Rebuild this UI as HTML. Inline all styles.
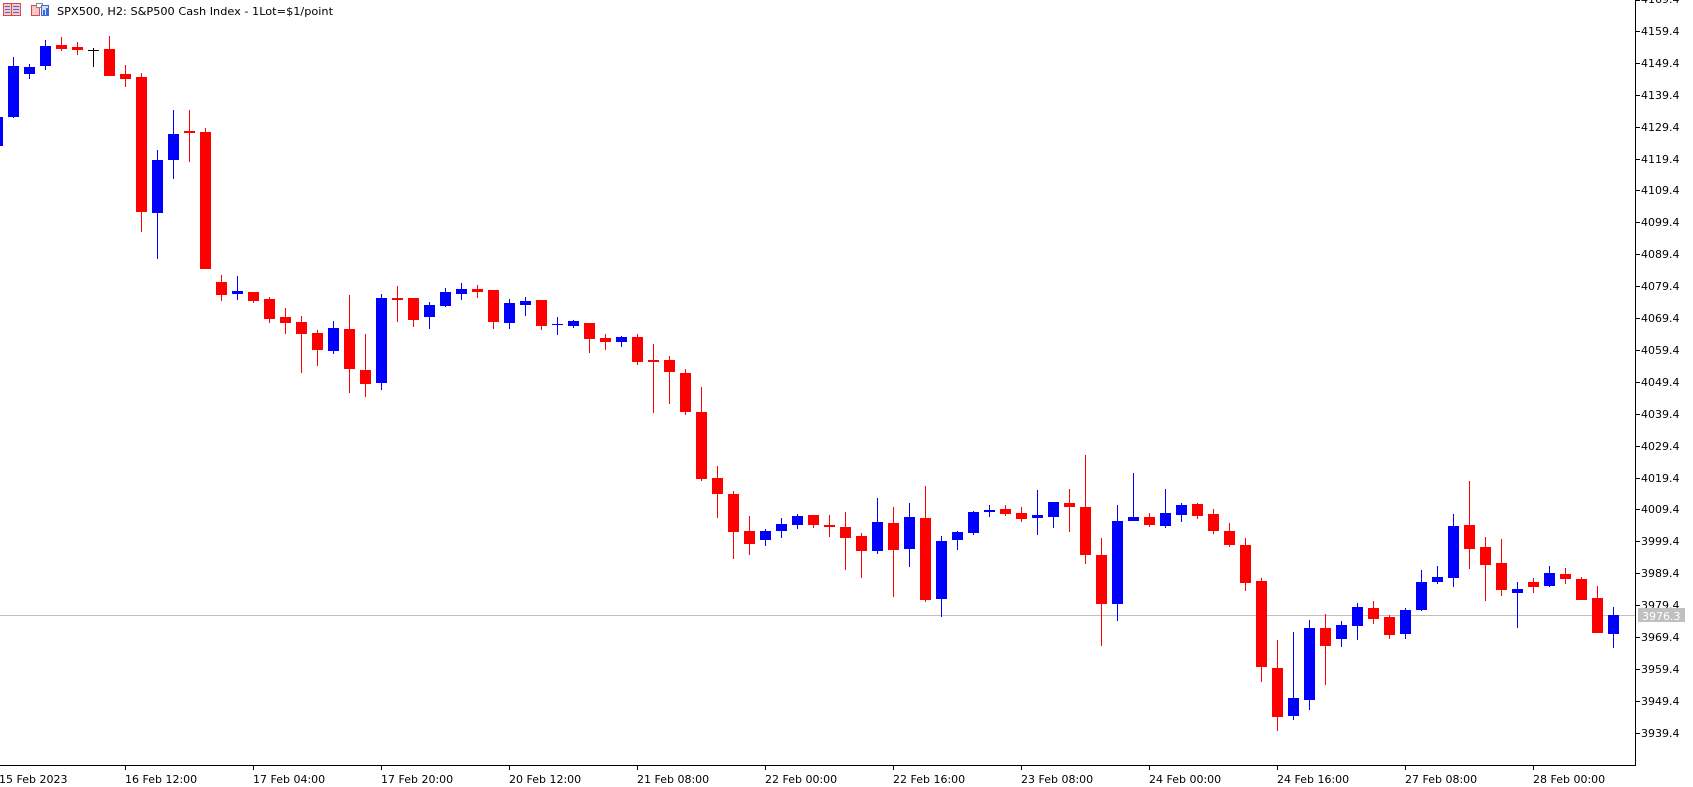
<!DOCTYPE html>
<html>
<head>
<meta charset="utf-8">
<style>
html,body{margin:0;padding:0;background:#fff;}
body{width:1693px;height:787px;overflow:hidden;}
svg{display:block;}
text{font-family:"DejaVu Sans","Liberation Sans",sans-serif;font-size:11px;fill:#000;}
</style>
</head>
<body>
<svg width="1693" height="787" viewBox="0 0 1693 787" xmlns="http://www.w3.org/2000/svg" shape-rendering="crispEdges">
<rect x="0" y="0" width="1693" height="787" fill="#fff"/>

<!-- title icons -->
<g>
<rect x="3.5" y="3.5" width="17" height="12" fill="#f6c9c9" stroke="#d84a4a"/>
<rect x="11" y="4" width="1" height="11" fill="#d84a4a"/>
<rect x="5" y="6" width="5" height="1" fill="#4a6ad8"/>
<rect x="5" y="9" width="5" height="1" fill="#4a6ad8"/>
<rect x="5" y="12" width="5" height="1" fill="#4a6ad8"/>
<rect x="13" y="6" width="6" height="1" fill="#4a6ad8"/>
<rect x="13" y="9" width="6" height="1" fill="#4a6ad8"/>
<rect x="13" y="12" width="6" height="1" fill="#4a6ad8"/>
<rect x="31.5" y="5.5" width="8" height="10" fill="#f6c9c9" stroke="#d84a4a"/>
<rect x="36.5" y="3.5" width="6" height="4" fill="#fff" stroke="#8a8a8a"/>
<rect x="41.5" y="5.5" width="7" height="10" fill="#cfe0f8" stroke="#3a6ad8"/>
<rect x="43" y="10" width="2" height="5" fill="#3a6ad8"/>
<rect x="46" y="8" width="2" height="7" fill="#3a6ad8"/>
</g>
<text x="57" y="15" textLength="276" lengthAdjust="spacingAndGlyphs">SPX500, H2:  S&amp;P500 Cash Index - 1Lot=$1/point</text>

<!-- bid line -->
<rect x="0" y="615" width="1635" height="1" fill="#c0c0c0"/>

<!-- blue candles -->
<g fill="#0000ff">
<rect x="-8" y="117" width="11" height="29"/>
<rect x="13" y="57" width="1" height="61"/><rect x="8" y="66" width="11" height="51"/>
<rect x="29" y="64" width="1" height="15"/><rect x="24" y="67" width="11" height="7"/>
<rect x="45" y="40" width="1" height="30"/><rect x="40" y="46" width="11" height="20"/>
<rect x="157" y="150" width="1" height="109"/><rect x="152" y="160" width="11" height="53"/>
<rect x="173" y="110" width="1" height="69"/><rect x="168" y="134" width="11" height="26"/>
<rect x="237" y="276" width="1" height="24"/><rect x="232" y="291" width="11" height="3"/>
<rect x="333" y="321" width="1" height="33"/><rect x="328" y="328" width="11" height="23"/>
<rect x="381" y="294" width="1" height="96"/><rect x="376" y="298" width="11" height="85"/>
<rect x="429" y="302" width="1" height="27"/><rect x="424" y="305" width="11" height="12"/>
<rect x="445" y="288" width="1" height="19"/><rect x="440" y="292" width="11" height="14"/>
<rect x="461" y="283" width="1" height="17"/><rect x="456" y="289" width="11" height="5"/>
<rect x="509" y="299" width="1" height="30"/><rect x="504" y="303" width="11" height="20"/>
<rect x="525" y="297" width="1" height="19"/><rect x="520" y="301" width="11" height="4"/>
<rect x="557" y="317" width="1" height="18"/><rect x="552" y="324" width="11" height="1"/>
<rect x="573" y="320" width="1" height="8"/><rect x="568" y="321" width="11" height="5"/>
<rect x="621" y="336" width="1" height="11"/><rect x="616" y="337" width="11" height="5"/>
<rect x="765" y="529" width="1" height="17"/><rect x="760" y="531" width="11" height="9"/>
<rect x="781" y="518" width="1" height="20"/><rect x="776" y="524" width="11" height="7"/>
<rect x="797" y="514" width="1" height="15"/><rect x="792" y="516" width="11" height="9"/>
<rect x="877" y="498" width="1" height="56"/><rect x="872" y="522" width="11" height="29"/>
<rect x="909" y="503" width="1" height="64"/><rect x="904" y="517" width="11" height="32"/>
<rect x="941" y="536" width="1" height="81"/><rect x="936" y="541" width="11" height="58"/>
<rect x="957" y="531" width="1" height="19"/><rect x="952" y="532" width="11" height="8"/>
<rect x="973" y="511" width="1" height="24"/><rect x="968" y="512" width="11" height="21"/>
<rect x="989" y="505" width="1" height="12"/><rect x="984" y="510" width="11" height="2"/>
<rect x="1037" y="490" width="1" height="45"/><rect x="1032" y="515" width="11" height="3"/>
<rect x="1053" y="502" width="1" height="26"/><rect x="1048" y="502" width="11" height="15"/>
<rect x="1117" y="505" width="1" height="116"/><rect x="1112" y="521" width="11" height="83"/>
<rect x="1133" y="473" width="1" height="48"/><rect x="1128" y="517" width="11" height="4"/>
<rect x="1165" y="489" width="1" height="39"/><rect x="1160" y="513" width="11" height="13"/>
<rect x="1181" y="503" width="1" height="19"/><rect x="1176" y="505" width="11" height="10"/>
<rect x="1293" y="632" width="1" height="88"/><rect x="1288" y="698" width="11" height="18"/>
<rect x="1309" y="620" width="1" height="90"/><rect x="1304" y="628" width="11" height="72"/>
<rect x="1341" y="621" width="1" height="26"/><rect x="1336" y="625" width="11" height="14"/>
<rect x="1357" y="603" width="1" height="37"/><rect x="1352" y="607" width="11" height="19"/>
<rect x="1405" y="608" width="1" height="31"/><rect x="1400" y="610" width="11" height="24"/>
<rect x="1421" y="570" width="1" height="41"/><rect x="1416" y="582" width="11" height="28"/>
<rect x="1437" y="566" width="1" height="18"/><rect x="1432" y="577" width="11" height="5"/>
<rect x="1453" y="514" width="1" height="73"/><rect x="1448" y="526" width="11" height="52"/>
<rect x="1517" y="582" width="1" height="46"/><rect x="1512" y="589" width="11" height="4"/>
<rect x="1549" y="566" width="1" height="21"/><rect x="1544" y="573" width="11" height="13"/>
<rect x="1613" y="607" width="1" height="41"/><rect x="1608" y="615" width="11" height="19"/>
</g>

<!-- black doji -->
<g fill="#000">
<rect x="93" y="48" width="1" height="19"/><rect x="88" y="50" width="11" height="1"/>
</g>

<!-- red candles -->
<g fill="#ff0000">
<rect x="61" y="37" width="1" height="14"/><rect x="56" y="45" width="11" height="4"/>
<rect x="77" y="42" width="1" height="13"/><rect x="72" y="47" width="11" height="3"/>
<rect x="109" y="36" width="1" height="40"/><rect x="104" y="49" width="11" height="27"/>
<rect x="125" y="65" width="1" height="22"/><rect x="120" y="74" width="11" height="5"/>
<rect x="141" y="73" width="1" height="159"/><rect x="136" y="77" width="11" height="135"/>
<rect x="189" y="110" width="1" height="52"/><rect x="184" y="131" width="11" height="2"/>
<rect x="205" y="128" width="1" height="141"/><rect x="200" y="132" width="11" height="137"/>
<rect x="221" y="275" width="1" height="26"/><rect x="216" y="282" width="11" height="13"/>
<rect x="253" y="292" width="1" height="11"/><rect x="248" y="292" width="11" height="9"/>
<rect x="269" y="297" width="1" height="26"/><rect x="264" y="299" width="11" height="20"/>
<rect x="285" y="308" width="1" height="26"/><rect x="280" y="317" width="11" height="6"/>
<rect x="301" y="316" width="1" height="57"/><rect x="296" y="322" width="11" height="12"/>
<rect x="317" y="330" width="1" height="36"/><rect x="312" y="333" width="11" height="17"/>
<rect x="349" y="295" width="1" height="98"/><rect x="344" y="329" width="11" height="40"/>
<rect x="365" y="334" width="1" height="63"/><rect x="360" y="370" width="11" height="14"/>
<rect x="397" y="286" width="1" height="36"/><rect x="392" y="298" width="11" height="2"/>
<rect x="413" y="298" width="1" height="29"/><rect x="408" y="298" width="11" height="22"/>
<rect x="477" y="285" width="1" height="13"/><rect x="472" y="289" width="11" height="3"/>
<rect x="493" y="290" width="1" height="39"/><rect x="488" y="290" width="11" height="32"/>
<rect x="541" y="300" width="1" height="30"/><rect x="536" y="300" width="11" height="26"/>
<rect x="589" y="323" width="1" height="30"/><rect x="584" y="323" width="11" height="16"/>
<rect x="605" y="334" width="1" height="16"/><rect x="600" y="338" width="11" height="4"/>
<rect x="637" y="334" width="1" height="31"/><rect x="632" y="337" width="11" height="25"/>
<rect x="653" y="344" width="1" height="69"/><rect x="648" y="360" width="11" height="2"/>
<rect x="669" y="356" width="1" height="48"/><rect x="664" y="360" width="11" height="12"/>
<rect x="685" y="369" width="1" height="46"/><rect x="680" y="373" width="11" height="39"/>
<rect x="701" y="387" width="1" height="94"/><rect x="696" y="412" width="11" height="67"/>
<rect x="717" y="466" width="1" height="52"/><rect x="712" y="478" width="11" height="16"/>
<rect x="733" y="491" width="1" height="68"/><rect x="728" y="494" width="11" height="38"/>
<rect x="749" y="516" width="1" height="39"/><rect x="744" y="531" width="11" height="13"/>
<rect x="813" y="515" width="1" height="13"/><rect x="808" y="515" width="11" height="10"/>
<rect x="829" y="515" width="1" height="22"/><rect x="824" y="525" width="11" height="2"/>
<rect x="845" y="512" width="1" height="58"/><rect x="840" y="527" width="11" height="11"/>
<rect x="861" y="533" width="1" height="45"/><rect x="856" y="536" width="11" height="15"/>
<rect x="893" y="507" width="1" height="90"/><rect x="888" y="523" width="11" height="27"/>
<rect x="925" y="486" width="1" height="116"/><rect x="920" y="518" width="11" height="82"/>
<rect x="1005" y="505" width="1" height="11"/><rect x="1000" y="509" width="11" height="5"/>
<rect x="1021" y="507" width="1" height="15"/><rect x="1016" y="513" width="11" height="6"/>
<rect x="1069" y="489" width="1" height="43"/><rect x="1064" y="503" width="11" height="4"/>
<rect x="1085" y="455" width="1" height="109"/><rect x="1080" y="507" width="11" height="48"/>
<rect x="1101" y="538" width="1" height="108"/><rect x="1096" y="555" width="11" height="49"/>
<rect x="1149" y="513" width="1" height="14"/><rect x="1144" y="517" width="11" height="8"/>
<rect x="1197" y="503" width="1" height="16"/><rect x="1192" y="504" width="11" height="12"/>
<rect x="1213" y="509" width="1" height="25"/><rect x="1208" y="514" width="11" height="17"/>
<rect x="1229" y="523" width="1" height="24"/><rect x="1224" y="531" width="11" height="14"/>
<rect x="1245" y="538" width="1" height="53"/><rect x="1240" y="545" width="11" height="38"/>
<rect x="1261" y="578" width="1" height="104"/><rect x="1256" y="581" width="11" height="86"/>
<rect x="1277" y="640" width="1" height="91"/><rect x="1272" y="668" width="11" height="49"/>
<rect x="1325" y="614" width="1" height="71"/><rect x="1320" y="628" width="11" height="18"/>
<rect x="1373" y="601" width="1" height="23"/><rect x="1368" y="608" width="11" height="11"/>
<rect x="1389" y="615" width="1" height="24"/><rect x="1384" y="617" width="11" height="18"/>
<rect x="1469" y="481" width="1" height="88"/><rect x="1464" y="525" width="11" height="24"/>
<rect x="1485" y="537" width="1" height="64"/><rect x="1480" y="547" width="11" height="18"/>
<rect x="1501" y="539" width="1" height="57"/><rect x="1496" y="563" width="11" height="27"/>
<rect x="1533" y="578" width="1" height="15"/><rect x="1528" y="582" width="11" height="5"/>
<rect x="1565" y="568" width="1" height="16"/><rect x="1560" y="574" width="11" height="5"/>
<rect x="1581" y="577" width="1" height="23"/><rect x="1576" y="579" width="11" height="21"/>
<rect x="1597" y="586" width="1" height="47"/><rect x="1592" y="598" width="11" height="35"/>
</g>

<!-- axes -->
<rect x="1635" y="0" width="1" height="766" fill="#000"/>
<rect x="0" y="765" width="1636" height="1" fill="#000"/>

<!-- price ticks -->
<g fill="#000">
<rect x="1635" y="0" width="5" height="1"/>
<rect x="1635" y="31" width="5" height="1"/>
<rect x="1635" y="63" width="5" height="1"/>
<rect x="1635" y="95" width="5" height="1"/>
<rect x="1635" y="127" width="5" height="1"/>
<rect x="1635" y="159" width="5" height="1"/>
<rect x="1635" y="190" width="5" height="1"/>
<rect x="1635" y="222" width="5" height="1"/>
<rect x="1635" y="254" width="5" height="1"/>
<rect x="1635" y="286" width="5" height="1"/>
<rect x="1635" y="318" width="5" height="1"/>
<rect x="1635" y="350" width="5" height="1"/>
<rect x="1635" y="382" width="5" height="1"/>
<rect x="1635" y="414" width="5" height="1"/>
<rect x="1635" y="446" width="5" height="1"/>
<rect x="1635" y="478" width="5" height="1"/>
<rect x="1635" y="509" width="5" height="1"/>
<rect x="1635" y="541" width="5" height="1"/>
<rect x="1635" y="573" width="5" height="1"/>
<rect x="1635" y="605" width="5" height="1"/>
<rect x="1635" y="637" width="5" height="1"/>
<rect x="1635" y="669" width="5" height="1"/>
<rect x="1635" y="701" width="5" height="1"/>
<rect x="1635" y="733" width="5" height="1"/>
</g>
<g>
<text x="1641" y="3">4169.4</text>
<text x="1641" y="35">4159.4</text>
<text x="1641" y="67">4149.4</text>
<text x="1641" y="99">4139.4</text>
<text x="1641" y="131">4129.4</text>
<text x="1641" y="163">4119.4</text>
<text x="1641" y="194">4109.4</text>
<text x="1641" y="226">4099.4</text>
<text x="1641" y="258">4089.4</text>
<text x="1641" y="290">4079.4</text>
<text x="1641" y="322">4069.4</text>
<text x="1641" y="354">4059.4</text>
<text x="1641" y="386">4049.4</text>
<text x="1641" y="418">4039.4</text>
<text x="1641" y="450">4029.4</text>
<text x="1641" y="482">4019.4</text>
<text x="1641" y="513">4009.4</text>
<text x="1641" y="545">3999.4</text>
<text x="1641" y="577">3989.4</text>
<text x="1641" y="609">3979.4</text>
<text x="1641" y="641">3969.4</text>
<text x="1641" y="673">3959.4</text>
<text x="1641" y="705">3949.4</text>
<text x="1641" y="737">3939.4</text>
</g>

<!-- current price label -->
<rect x="1638" y="608" width="47" height="14" fill="#c0c0c0"/>
<text x="1642" y="620" style="fill:#fff">3976.3</text>

<!-- time ticks -->
<g fill="#000">
<rect x="125" y="766" width="1" height="4"/>
<rect x="253" y="766" width="1" height="4"/>
<rect x="381" y="766" width="1" height="4"/>
<rect x="509" y="766" width="1" height="4"/>
<rect x="637" y="766" width="1" height="4"/>
<rect x="765" y="766" width="1" height="4"/>
<rect x="893" y="766" width="1" height="4"/>
<rect x="1021" y="766" width="1" height="4"/>
<rect x="1149" y="766" width="1" height="4"/>
<rect x="1277" y="766" width="1" height="4"/>
<rect x="1405" y="766" width="1" height="4"/>
<rect x="1533" y="766" width="1" height="4"/>
</g>
<g>
<text x="-1" y="783">15 Feb 2023</text>
<text x="125" y="783">16 Feb 12:00</text>
<text x="253" y="783">17 Feb 04:00</text>
<text x="381" y="783">17 Feb 20:00</text>
<text x="509" y="783">20 Feb 12:00</text>
<text x="637" y="783">21 Feb 08:00</text>
<text x="765" y="783">22 Feb 00:00</text>
<text x="893" y="783">22 Feb 16:00</text>
<text x="1021" y="783">23 Feb 08:00</text>
<text x="1149" y="783">24 Feb 00:00</text>
<text x="1277" y="783">24 Feb 16:00</text>
<text x="1405" y="783">27 Feb 08:00</text>
<text x="1533" y="783">28 Feb 00:00</text>
</g>
</svg>
</body>
</html>
